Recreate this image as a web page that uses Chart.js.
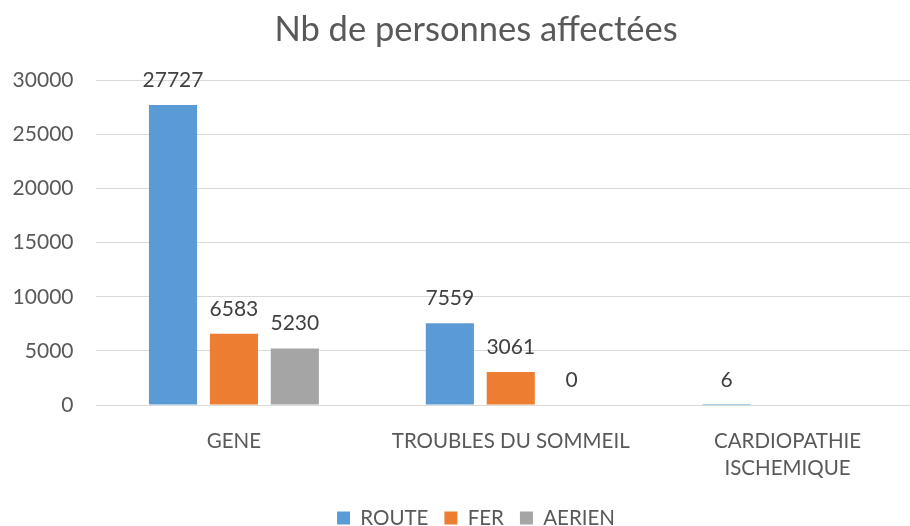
<!DOCTYPE html>
<html>
<head>
<meta charset="utf-8">
<script src="https://cdn.jsdelivr.net/npm/chart.js@4/dist/chart.umd.min.js"></script>
<style>
  html, body { margin: 0; padding: 0; background: #fff; overflow: hidden; width: 910px; height: 526px; }
  #wrap { width: 952px; height: 526px; position: relative; overflow: hidden; }
  canvas { display: block; }
</style>
</head>
<body>
<div id="wrap"><canvas id="c" width="952" height="526"></canvas></div>
<script>
const categories = [["GENE"], ["TROUBLES DU SOMMEIL"], ["CARDIOPATHIE", "ISCHEMIQUE"]];
const seriesNames = ["ROUTE", "FER", "AERIEN"];
const route = [27727, 7559, 6];
const fer = [6583, 3061, null];
const aerien = [5230, 0, null];
const yTicks = [0, 5000, 10000, 15000, 20000, 25000, 30000];

const colors = ["#5B9BD5", "#ED7D31", "#A5A5A5"];
const FONT = "Lato";

const valueLabels = {
  id: "valueLabels",
  afterDatasetsDraw(chart) {
    const ctx = chart.ctx;
    ctx.save();
    ctx.font = "21px " + FONT;
    ctx.fillStyle = "#404040";
    ctx.textAlign = "center";
    ctx.textBaseline = "middle";
    chart.data.datasets.forEach((ds, i) => {
      const meta = chart.getDatasetMeta(i);
      meta.data.forEach((el, j) => {
        const v = ds.data[j];
        if (v === null || v === undefined) return;
        ctx.fillText(String(v), el.x, el.y - 25);
      });
    });
    ctx.restore();
  }
};

new Chart(document.getElementById("c"), {
  type: "bar",
  data: {
    labels: categories,
    datasets: [
      { label: seriesNames[0], data: route, backgroundColor: colors[0] },
      { label: seriesNames[1], data: fer, backgroundColor: colors[1] },
      { label: seriesNames[2], data: aerien, backgroundColor: colors[2] }
    ]
  },
  options: {
    responsive: false,
    devicePixelRatio: 1,
    animation: false,
    events: [],
    layout: { padding: { left: 0, right: 0, top: 0, bottom: -12.25 } },
    datasets: { bar: { barPercentage: 0.79, categoryPercentage: 0.66 } },
    plugins: {
      title: {
        display: true,
        text: "Nb de personnes affectées",
        color: "#595959",
        font: { family: FONT, size: 34.5, weight: "normal" },
        padding: { top: 9, bottom: 30 }
      },
      legend: {
        position: "bottom",
        labels: {
          color: "#595959",
          font: { family: FONT, size: 20.5 },
          boxWidth: 13,
          boxHeight: 13,
          padding: 16
        }
      },
      tooltip: { enabled: false }
    },
    scales: {
      x: {
        grid: { display: false },
        border: { display: false },
        ticks: {
          color: "#595959",
          font: { family: FONT, size: 20.5, lineHeight: 1.32 },
          padding: 15,
          maxRotation: 0,
          autoSkip: false
        },
        afterFit(scale) { scale.height = 86.75; }
      },
      y: {
        min: 0,
        max: 30000,
        afterBuildTicks(scale) { scale.ticks = yTicks.map(v => ({ value: v })); },
        grid: { color: "#D9D9D9", lineWidth: 1, drawTicks: false },
        border: { display: false },
        ticks: {
          color: "#595959",
          font: { family: FONT, size: 21 },
          padding: 22,
          callback: (v) => String(v)
        },
        afterFit(scale) { scale.width = 95.5; }
      },
      yRight: {
        position: "right",
        display: true,
        grid: { display: false, drawTicks: false },
        border: { display: false },
        ticks: { display: false },
        afterFit(scale) { scale.width = 26; }
      }
    }
  },
  plugins: [valueLabels]
});
</script>
</body>
</html>
